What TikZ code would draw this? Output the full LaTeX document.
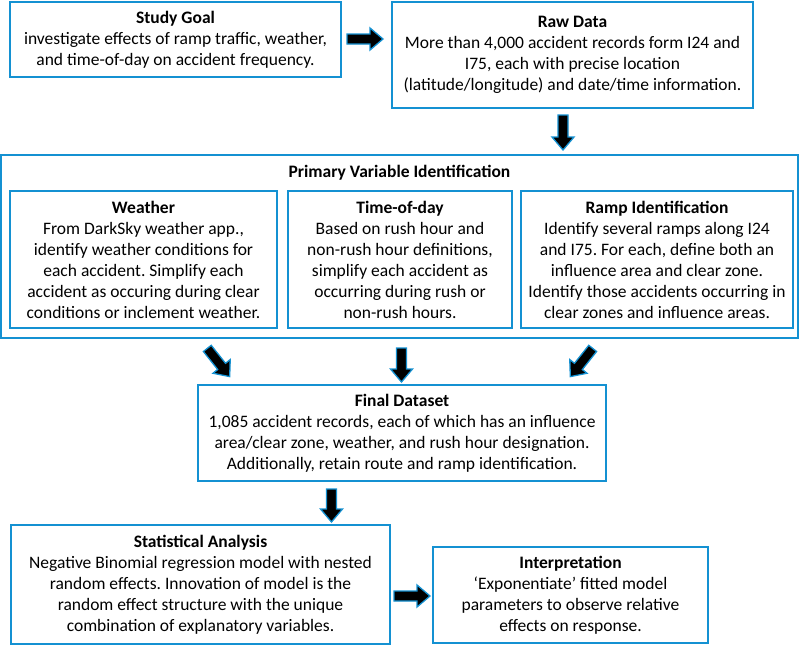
\documentclass[tikz,border=0pt]{standalone}
\usepackage{fontspec}
\setmainfont{Carlito}
\frenchspacing
\definecolor{boxblue}{RGB}{20,145,210}
\tikzset{
  box/.style={draw=boxblue, line width=1.6pt, fill=white, inner sep=0pt, align=center,
    font=\fontsize{17.5}{21}\selectfont},
  barrow/.style={draw=boxblue, fill=black, line width=1.3pt, line join=miter},
}
% block arrow: name, centre, angle, length
\newcommand{\blockarr}[4]{%
  \coordinate (#1) at #2;
  \begin{scope}[shift={(#1)}, rotate=#3]
    \draw[barrow] (-#4/2,-5) -- (#4/2-13,-5) -- (#4/2-13,-11) -- (#4/2,0)
      -- (#4/2-13,11) -- (#4/2-13,5) -- (-#4/2,5) -- cycle;
  \end{scope}}
\begin{document}
\begin{tikzpicture}[x=1pt,y=-1pt]
\useasboundingbox (0,0) rectangle (800,645);
\node[box, minimum width=331, minimum height=75] (goal) at (175.5,39.5)
  {\textbf{Study Goal}\\investigate effects of ramp traffic, weather,\\and time-of-day on accident frequency.};
\node[box, minimum width=361, minimum height=106] (raw) at (572.5,55)
  {\textbf{Raw Data}\\More than 4,000 accident records form I24 and\\I75, each with precise location\\(latitude/longitude) and date/time information.};
\node[box, minimum width=797, minimum height=183] (prim) at (399.5,246.5) {};
\node[font=\fontsize{17.5}{21}\selectfont\bfseries, inner sep=0pt] (primt) at (399.5,173) {Primary Variable Identification};
\node[box, minimum width=267, minimum height=137] (weather) at (143.5,259.5)
  {\textbf{Weather}\\From DarkSky weather app.,\\identify weather conditions for\\each accident. Simplify each\\accident as occuring during clear\\conditions or inclement weather.};
\node[box, minimum width=224, minimum height=137] (time) at (400,259.5)
  {\textbf{Time-of-day}\\Based on rush hour and\\non-rush hour definitions,\\simplify each accident as\\occurring during rush or\\non-rush hours.};
\node[box, minimum width=272, minimum height=137] (ramp) at (657,259.5)
  {\textbf{Ramp Identification}\\Identify several ramps along I24\\and I75. For each, define both an\\influence area and clear zone.\\Identify those accidents occurring in\\clear zones and influence areas.};
\node[box, minimum width=408, minimum height=96] (final) at (402,433)
  {\textbf{Final Dataset}\\1,085 accident records, each of which has an influence\\area/clear zone, weather, and rush hour designation.\\Additionally, retain route and ramp identification.};
\node[box, minimum width=379, minimum height=119] (stat) at (200.5,584.5)
  {\textbf{Statistical Analysis}\\Negative Binomial regression model with nested\\random effects. Innovation of model is the\\random effect structure with the unique\\combination of explanatory variables.};
\node[box, minimum width=275, minimum height=96] (interp) at (570.5,595)
  {\textbf{Interpretation}\\‘Exponentiate’ fitted model\\parameters to observe relative\\effects on response.};
% block arrows
\blockarr{a1}{(365,39)}{0}{36}
\blockarr{a2}{(563,132.5)}{-90}{35}
\blockarr{a3}{(218.5,362.5)}{-51.6}{36}
\blockarr{a4}{(401.5,365)}{-90}{34}
\blockarr{a5}{(581.5,362.5)}{-128.4}{36}
\blockarr{a6}{(331.5,505.5)}{-90}{33}
\blockarr{a7}{(412,596)}{0}{36}
\end{tikzpicture}
\end{document}
